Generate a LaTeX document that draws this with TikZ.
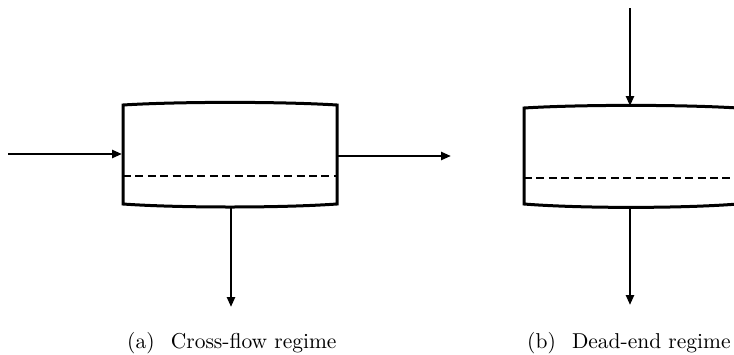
\documentclass[tikz,border=0pt]{standalone}
\usepackage{graphicx}
\usetikzlibrary{arrows.meta}
\begin{document}
\begin{tikzpicture}[x=1pt,y=-1pt,
  vessel/.style={line width=3pt,line join=miter},
  membrane/.style={line width=2.8pt,dash pattern=on 8pt off 4.4pt},
  flow/.style={line width=2.4pt,-{Triangle[length=10pt,width=8pt]}},
  captext/.style={anchor=base west,inner sep=0pt}]
\useasboundingbox (0,0) rectangle (734,354);
\clip (0,0) rectangle (734,354);
% ---- (a) cross-flow ----
\coordinate (aTL) at (123,105);
\coordinate (aTR) at (337,105);
\coordinate (aBR) at (337,204);
\coordinate (aBL) at (123,204);
\draw[vessel] (aTL) .. controls (180,101.5) and (280,101.5) .. (aTR) -- (aBR)
  .. controls (280,208) and (180,208) .. (aBL) -- cycle;
\coordinate (aML) at (123,176);
\coordinate (aMR) at (337,176);
\draw[membrane] (aML) -- (aMR);
\coordinate (aIn) at (8,154);
\coordinate (aInEnd) at (122,154);
\draw[flow] (aIn) -- (aInEnd);
\coordinate (aOutStart) at (337,156);
\coordinate (aOut) at (451,156);
\draw[flow] (aOutStart) -- (aOut);
\coordinate (aPermStart) at (231,206.5);
\coordinate (aPerm) at (231,307);
\draw[flow] (aPermStart) -- (aPerm);
\node[captext] (capA) at (127,348) {\scalebox{2.15}{\normalsize (a)\hspace{0.75em}Cross-flow regime}};
% ---- (b) dead-end ----
\coordinate (bTL) at (524,108);
\coordinate (bTR) at (738,108);
\coordinate (bBR) at (738,204);
\coordinate (bBL) at (524,204);
\draw[vessel] (bTL) .. controls (581,104.5) and (681,104.5) .. (bTR) -- (bBR)
  .. controls (681,208.5) and (581,208.5) .. (bBL) -- cycle;
\coordinate (bML) at (524,178);
\coordinate (bMR) at (738,178);
\draw[membrane] (bML) -- (bMR);
\coordinate (bIn) at (630,8);
\coordinate (bInEnd) at (630,106);
\draw[flow] (bIn) -- (bInEnd);
\coordinate (bPermStart) at (630,207);
\coordinate (bPerm) at (630,305);
\draw[flow] (bPermStart) -- (bPerm);
\node[captext] (capB) at (527,348) {\scalebox{2.15}{\normalsize (b)\hspace{0.75em}Dead-end regime}};
\end{tikzpicture}
\end{document}
